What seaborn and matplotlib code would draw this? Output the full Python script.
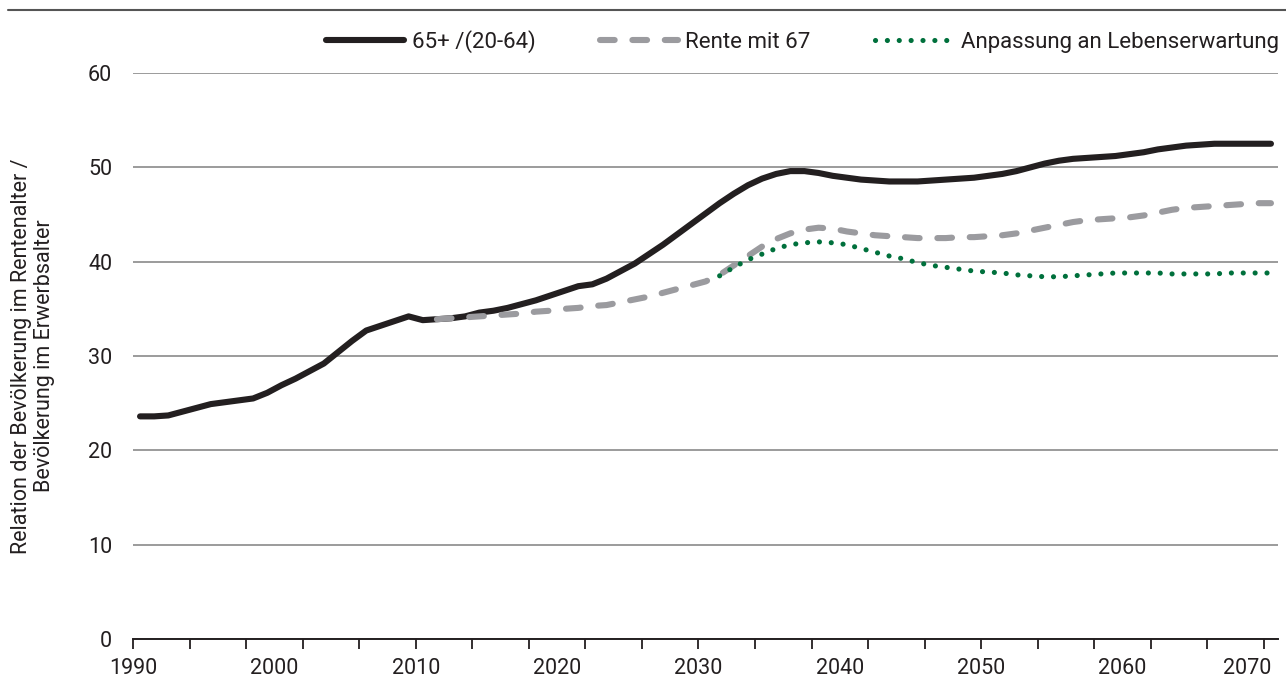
import numpy as np
import pandas as pd
import matplotlib
matplotlib.use('Agg')
import matplotlib.pyplot as plt
import seaborn as sns

sns.set_style('white')
plt.rcParams['font.family'] = ['Roboto', 'DejaVu Sans']

# Altenquotient 65+/(20-64), Werte in %
years = list(range(1990, 2071))
quote_65 = [23.6, 23.6, 23.7, 24.1, 24.5, 24.9, 25.1, 25.3, 25.5, 26.1,
            26.9, 27.6, 28.4, 29.2, 30.4, 31.6, 32.7, 33.2, 33.7, 34.2,
            33.8, 33.9, 34.0, 34.2, 34.6, 34.8, 35.1, 35.5, 35.9, 36.4,
            36.9, 37.4, 37.6, 38.2, 39.0, 39.8, 40.8, 41.8, 42.9, 44.0,
            45.1, 46.2, 47.2, 48.1, 48.8, 49.3, 49.6, 49.6, 49.4, 49.1,
            48.9, 48.7, 48.6, 48.5, 48.5, 48.5, 48.6, 48.7, 48.8, 48.9,
            49.1, 49.3, 49.6, 50.0, 50.4, 50.7, 50.9, 51.0, 51.1, 51.2,
            51.4, 51.6, 51.9, 52.1, 52.3, 52.4, 52.5, 52.5, 52.5, 52.5,
            52.5]

years_r67 = list(range(2011, 2071))
rente_67 = [33.9, 34.0, 34.1, 34.2, 34.3, 34.4, 34.5, 34.7, 34.8, 35.0,
            35.1, 35.3, 35.4, 35.7, 36.0, 36.3, 36.7, 37.1, 37.5, 37.9,
            38.6, 39.6, 40.6, 41.6, 42.4, 43.0, 43.4, 43.6, 43.5, 43.2,
            43.0, 42.8, 42.7, 42.6, 42.5, 42.5, 42.5, 42.6, 42.6, 42.7,
            42.8, 43.0, 43.3, 43.6, 43.9, 44.2, 44.4, 44.5, 44.6, 44.7,
            44.9, 45.2, 45.5, 45.7, 45.8, 45.9, 46.0, 46.1, 46.2, 46.2]

years_le = list(range(2031, 2071))
lebenserw = [38.5, 39.4, 40.2, 40.8, 41.4, 41.8, 42.0, 42.1, 42.0, 41.8,
             41.4, 41.0, 40.6, 40.3, 39.9, 39.6, 39.4, 39.2, 39.0, 38.9,
             38.8, 38.6, 38.5, 38.4, 38.4, 38.5, 38.6, 38.7, 38.8, 38.8,
             38.8, 38.8, 38.7, 38.7, 38.7, 38.7, 38.8, 38.8, 38.8, 38.8]

labels = ['65+ /(20-64)', 'Rente mit 67', 'Anpassung an Lebenserwartung']
xlabels = ['1990', '2000', '2010', '2020', '2030', '2040', '2050', '2060', '2070']

fig = plt.figure(figsize=(12.86, 6.86), dpi=100)
ax = fig.add_axes([0.1034, 0.0685, 0.8904, 0.8251])

# Kategorienachse: Punkte in der Mitte des Jahres
sns.lineplot(x=np.array(years) + 0.5, y=quote_65, ax=ax, color='#231f20',
             lw=4.4, solid_capstyle='round', label=labels[0])
sns.lineplot(x=np.array(years_r67) + 0.5, y=rente_67, ax=ax, color='#9b9b9f',
             lw=4.4, label=labels[1])
ax.lines[-1].set_dashes((2.4, 2.9))
ax.lines[-1].set_dash_capstyle('round')
sns.lineplot(x=np.array(years_le) + 0.5, y=lebenserw, ax=ax, color='#00703c',
             lw=3.7, label=labels[2])
ax.lines[-1].set_dashes((0.01, 2.3))
ax.lines[-1].set_dash_capstyle('round')

ax.set_xlim(1990, 2071)
ax.set_ylim(0, 60)
ax.set_yticks(range(0, 61, 10))
ax.yaxis.grid(True, color='#808080', lw=1.1)
ax.set_axisbelow(True)
for s in ['top', 'right', 'left']:
    ax.spines[s].set_visible(False)
ax.spines['bottom'].set_color('#231f20')
ax.spines['bottom'].set_linewidth(1.4)

ax.xaxis.remove_overlapping_locs = False
ax.set_xticks(range(1990, 2071, 4))
ax.set_xticklabels([])
ax.tick_params(axis='x', which='major', bottom=True, length=7, width=1.3,
               color='#231f20', direction='out')
ax.set_xticks([1990, 2000, 2010, 2020, 2030, 2040, 2050, 2060, 2068.8], minor=True)
ax.set_xticklabels(xlabels, minor=True)
ax.tick_params(axis='x', which='minor', bottom=True, length=0, pad=14,
               labelsize=15.5, labelcolor='#231f20')
ax.tick_params(axis='y', length=0, pad=15, labelsize=15.5, labelcolor='#231f20')

ax.set_xlabel('')
ax.set_ylabel('Relation der Bevölkerung im Rentenalter /\nBevölkerung im Erwerbsalter',
              fontsize=15.5, color='#231f20', labelpad=24, linespacing=1.1)

h, l = ax.get_legend_handles_labels()
ax.get_legend().remove()
fig.legend(h, l, loc='upper right', bbox_to_anchor=(1.01, 0.985), ncol=3,
           frameon=False, fontsize=16, handlelength=3.5, handletextpad=0.35,
           columnspacing=2.9, labelcolor='#231f20')

# Linie oben
fig.add_artist(plt.Line2D([8 / 1286, 1], [1 - 10 / 686, 1 - 10 / 686],
                          color='#555555', lw=1.5, transform=fig.transFigure))

fig.savefig('out.png', dpi=100)
